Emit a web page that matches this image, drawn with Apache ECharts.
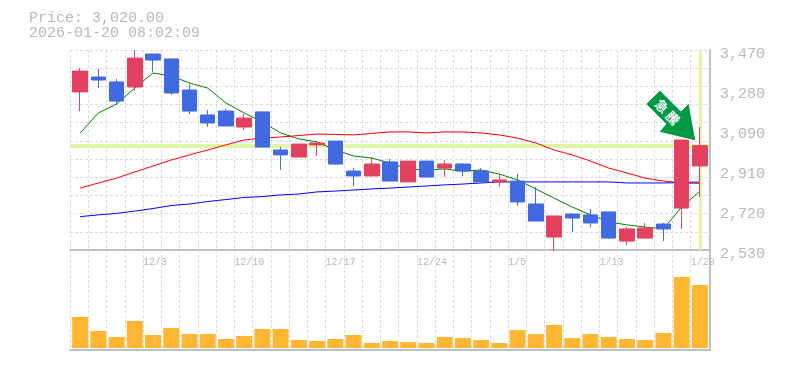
<!DOCTYPE html>
<html>
<head>
<meta charset="utf-8">
<style>
  html, body { margin: 0; padding: 0; background: #fff; }
  #chart { width: 785px; height: 370px; }
</style>
<script src="https://cdn.jsdelivr.net/npm/echarts@6/dist/echarts.min.js"></script>
</head>
<body>
<div id="chart"></div>
<script>
const dates = ['11/27', '11/28', '12/1', '12/2', '12/3', '12/4', '12/5', '12/8', '12/9', '12/10',
  '12/11', '12/12', '12/15', '12/16', '12/17', '12/18', '12/19', '12/22', '12/23', '12/24',
  '12/25', '12/26', '12/29', '12/30', '1/5', '1/6', '1/7', '1/8', '1/9', '1/13',
  '1/14', '1/15', '1/16', '1/19', '1/20'];
const shownDates = ['12/3', '12/10', '12/17', '12/24', '1/5', '1/13', '1/20'];
// open, close, low, high
const candles = [
  [3273, 3371, 3183, 3385], [3343, 3329, 3291, 3381], [3320, 3230, 3212, 3334], [3296, 3432, 3277, 3470],
  [3451, 3423, 3367, 3451], [3428, 3268, 3259, 3428], [3282, 3183, 3169, 3310], [3165, 3127, 3108, 3188],
  [3183, 3113, 3113, 3193], [3108, 3150, 3094, 3169], [3179, 3014, 3014, 3179], [3000, 2977, 2906, 3014],
  [2967, 3028, 2967, 3028], [3024, 3033, 2972, 3033], [3042, 2934, 2930, 3042], [2901, 2878, 2831, 2915],
  [2878, 2934, 2878, 2967], [2944, 2854, 2854, 2958], [2850, 2948, 2850, 2948], [2948, 2873, 2873, 2948],
  [2915, 2934, 2873, 2953], [2934, 2901, 2878, 2939], [2901, 2850, 2850, 2915], [2850, 2859, 2826, 2887],
  [2854, 2756, 2737, 2887], [2746, 2666, 2666, 2826], [2591, 2690, 2525, 2690], [2699, 2680, 2615, 2699],
  [2695, 2657, 2638, 2723], [2709, 2586, 2582, 2709], [2572, 2629, 2554, 2638], [2586, 2633, 2586, 2657],
  [2652, 2629, 2572, 2657], [2727, 3047, 2629, 3047], [2925, 3020, 2779, 3108]
];
const ma5 = [3080, 3174, 3216, 3291, 3362, 3348, 3315, 3291, 3221, 3174, 3132, 3080, 3052, 3038, 3000, 2972, 2962, 2939,
  2911, 2906, 2911, 2901, 2906, 2887, 2859, 2817, 2774, 2732, 2695, 2662, 2648, 2638, 2629, 2732, 2807];
const ma25 = [2821, 2845, 2868, 2897, 2925, 2953, 2977, 3000, 3024, 3047, 3056, 3061, 3068, 3075, 3073, 3071, 3078, 3085,
  3085, 3080, 3085, 3085, 3080, 3071, 3056, 3033, 3000, 2977, 2948, 2915, 2892, 2868, 2854, 2845, 2843];
const ma75 = [2687, 2695, 2702, 2713, 2725, 2739, 2746, 2758, 2767, 2777, 2781, 2789, 2793, 2803, 2807, 2812, 2817, 2821,
  2826, 2831, 2836, 2840, 2845, 2850, 2850, 2850, 2850, 2850, 2850, 2850, 2845, 2845, 2845, 2847, 2850];
const volumes = [31, 17, 11, 27, 13, 20, 14, 14, 9, 12, 19, 19, 8, 7, 9, 13, 5, 7,
  6, 5, 11, 10, 8, 5, 18, 14, 23, 10, 14, 11, 9, 8, 15, 71, 63];
const priceTicks = ['2,530', '2,720', '2,910', '3,090', '3,280', '3,470'];
const lastPrice = 3020;
const priceText = 'Price: 3,020.00';
const timeText = '2026-01-20 08:02:09';
const arrowText = ['急', '騰'];

const gridColor = '#dcdcdc';
const edgeColor = '#c0c0c0';
const labelColor = '#b8b8b8';
const monoFont = '"Liberation Mono", monospace';

const chart = echarts.init(document.getElementById('chart'));

function lineSeries(name, data, color) {
  return {
    name: name,
    type: 'line',
    data: data,
    symbol: 'none',
    z: 2,
    silent: true,
    lineStyle: { color: color, width: 1 },
  };
}

// one extra slot so these axes put their lines on the band edges
const edges = dates.concat(['']);
function edgeAxis(gridIndex, showLabel) {
  return {
    type: 'category',
    gridIndex: gridIndex,
    position: 'bottom',
    boundaryGap: false,
    data: edges,
    axisLine: { onZero: false, lineStyle: { color: edgeColor, width: 2 } },
    axisTick: { show: false },
    splitLine: { show: true, interval: 0, lineStyle: { color: gridColor, type: [3, 2], width: 1 } },
    axisLabel: {
      show: showLabel,
      interval: 0,
      align: 'left',
      margin: 7,
      color: labelColor,
      fontFamily: monoFont,
      fontSize: 10,
      formatter: (v) => (shownDates.includes(v) ? v : ''),
    },
  };
}
function dataAxis(gridIndex) {
  return {
    type: 'category',
    gridIndex: gridIndex,
    data: dates,
    axisLine: { show: false },
    axisTick: { show: false },
    axisLabel: { show: false },
    splitLine: { show: false },
  };
}

chart.setOption({
  animation: false,
  backgroundColor: '#fff',
  textStyle: { fontFamily: monoFont },
  grid: [
    { left: 71, top: 50, width: 638, height: 200 },
    { left: 71, top: 250, width: 638, height: 100 },
    // labels sit a little under their grid lines
    { left: 70, top: 54, width: 640, height: 200 },
    // dashed grid is 1px wider than the bars' bands
    { left: 70, top: 50, width: 639, height: 200 },
    { left: 70, top: 250, width: 639, height: 100 },
  ],
  xAxis: [
    dataAxis(0),
    dataAxis(1),
    Object.assign(dataAxis(2), { show: false }),
    edgeAxis(3, true),
    edgeAxis(4, false),
  ],
  yAxis: [
    {
      type: 'value',
      gridIndex: 0,
      min: 2530,
      max: 3470,
      position: 'right',
      offset: 1,
      axisLine: { show: true, onZero: false, lineStyle: { color: edgeColor, width: 2 } },
      axisTick: { show: false },
      axisLabel: { show: false },
      splitLine: { show: false },
    },
    {
      type: 'value',
      gridIndex: 1,
      min: -2,
      max: 98,
      position: 'right',
      offset: 1,
      axisLine: { show: true, onZero: false, lineStyle: { color: edgeColor, width: 2 } },
      axisTick: { show: false },
      axisLabel: { show: false },
      splitLine: { show: false },
    },
    // price labels
    {
      type: 'category',
      gridIndex: 2,
      position: 'right',
      boundaryGap: false,
      data: priceTicks,
      axisLine: { show: false },
      axisTick: { show: false },
      splitLine: { show: false },
      axisLabel: {
        interval: 0,
        margin: 10,
        color: labelColor,
        fontFamily: monoFont,
        fontSize: 15,
      },
    },
    // horizontal grid
    {
      type: 'category',
      gridIndex: 3,
      position: 'left',
      boundaryGap: false,
      data: Array.from({ length: 12 }, (_, i) => String(i)),
      axisLine: { show: false },
      axisTick: { show: false },
      axisLabel: { show: false },
      splitLine: { show: true, interval: 0, lineStyle: { color: gridColor, type: [3, 2], width: 1 } },
    },
    { type: 'value', gridIndex: 4, show: false },
  ],
  series: [
    lineSeries('MA5', ma5, '#008000'),
    lineSeries('MA25', ma25, '#ff0000'),
    lineSeries('MA75', ma75, '#0000ff'),
    {
      name: 'Price',
      type: 'candlestick',
      data: candles,
      barWidth: 15,
      clip: false,
      z: 3,
      itemStyle: {
        color: '#e2415f',
        color0: '#4169e1',
        borderColor: '#e2415f',
        borderColor0: '#4169e1',
        borderWidth: 1,
      },
      markLine: {
        silent: true,
        symbol: 'none',
        z: 1,
        label: { show: false },
        lineStyle: { color: '#e0f5a6', type: 'solid', width: 4 },
        data: [
          { yAxis: lastPrice },
          { xAxis: dates[dates.length - 1], lineStyle: { color: '#e0f5a6', type: 'solid', width: 3 } },
        ],
      },
    },
    {
      name: 'Volume',
      type: 'bar',
      xAxisIndex: 1,
      yAxisIndex: 1,
      data: volumes,
      barWidth: 16,
      itemStyle: { color: '#ffb733' },
    },
  ],
});

// green arrow, hung from the body top of the last-but-one session
const tip = chart.convertToPixel({ xAxisIndex: 0, yAxisIndex: 0 }, [dates[34], 3042]);
const ox = tip[0] - 4;
const oy = tip[1];
const arrowShape = [[-36, -51], [-50, -37], [-30, -17], [-37, -9], [0, 0], [-7, -38], [-15, -30]];
chart.setOption({
  graphic: [
    {
      type: 'text',
      left: 29,
      top: 11,
      style: { text: priceText, fill: labelColor, font: '15px ' + monoFont },
    },
    {
      type: 'text',
      left: 29,
      top: 26,
      style: { text: timeText, fill: labelColor, font: '15px ' + monoFont },
    },
    {
      type: 'polygon',
      x: ox,
      y: oy,
      z: 20,
      shape: { points: arrowShape },
      style: { fill: '#009944', stroke: '#ffffff', lineWidth: 1 },
    },
  ].concat(arrowText.map((ch, i) => ({
    type: 'text',
    x: ox - 34 + i * 11,
    y: oy - 35 + i * 12,
    rotation: -Math.PI / 4,
    z: 21,
    style: {
      text: ch,
      fill: '#fff',
      font: 'bold 13px "Noto Sans CJK JP"',
      align: 'center',
      verticalAlign: 'middle',
    },
  }))),
});
</script>
</body>
</html>
